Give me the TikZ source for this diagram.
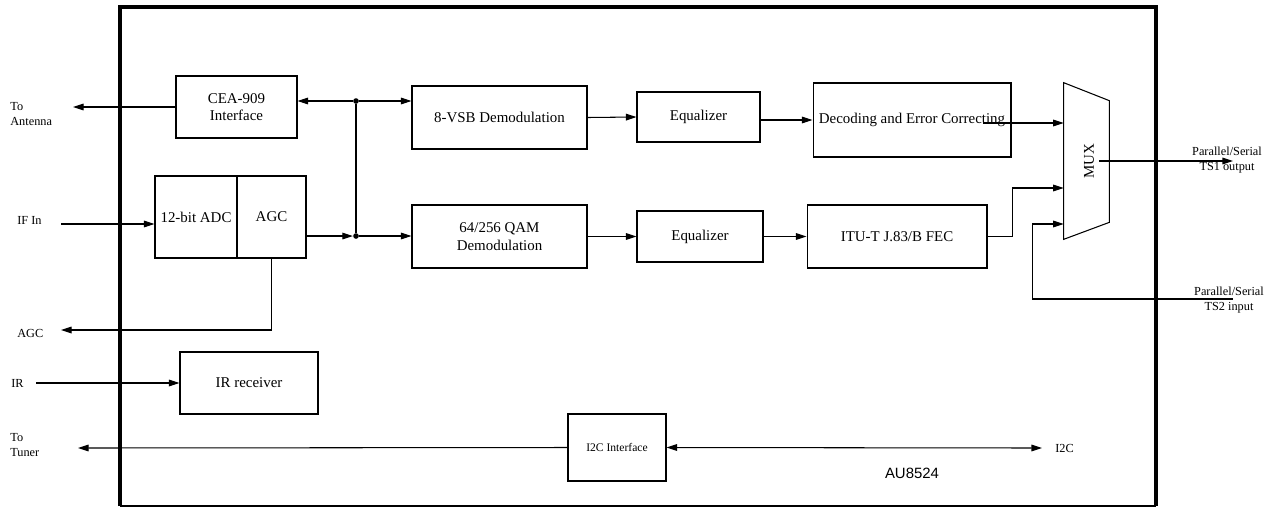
\documentclass[tikz,border=0pt]{standalone}
\usepackage{fontspec}
\setmainfont{Liberation Serif}
\newfontfamily\chipfont{Liberation Sans}
\usetikzlibrary{arrows.meta,positioning,calc}

\begin{document}
\begin{tikzpicture}[x=0.02cm, y=-0.02cm,
  block/.style={draw, line width=0.6pt, align=center, inner sep=1pt, font=\fontsize{8.5}{10}\selectfont},
  pin/.style={align=left, inner sep=0pt, anchor=west, font=\fontsize{7}{8.4}\selectfont},
  wire/.style={line width=0.6pt},
  sig/.style={wire, -{Triangle[length=6pt,width=3.8pt]}},
  bus/.style={wire, {Triangle[length=6pt,width=3.8pt]}-{Triangle[length=6pt,width=3.8pt]}},
  dot/.style={circle, fill, inner sep=0pt, minimum size=3.2pt}]
  \useasboundingbox (0,0) rectangle (1273,508);

  % chip outline
  \draw[line width=2pt] (120,506) -- (120,7) -- (1156,7) -- (1156,506);
  \draw[line width=1pt] (120,506) -- (1156,506);
  \node[font=\chipfont\fontsize{8.5}{10}\selectfont] (chipname) at (912,473) {AU8524};

  % front end
  \node[block, minimum width=2.42cm, minimum height=1.24cm] (cea) at (236.5,107) {CEA-909\\Interface};
  \node[block, minimum width=1.64cm, minimum height=1.64cm] (adc) at (196,217) {12-bit ADC};
  \node[block, minimum width=1.38cm, minimum height=1.64cm] (agc) at (271.5,217) {AGC};
  \node[block, minimum width=2.76cm, minimum height=1.24cm] (irrx) at (249,383) {IR receiver};
  \node[block, minimum width=1.96cm, minimum height=1.34cm, font=\fontsize{6.6}{8}\selectfont] (i2c) at (617,447.5) {I2C Interface};

  % 8-VSB path
  \node[block, minimum width=3.5cm, minimum height=1.26cm] (vsb) at (499.5,117.5) {8-VSB Demodulation};
  \node[block, minimum width=2.46cm, minimum height=1cm] (eqa) at (698.5,117) {Equalizer};
  \node[block, minimum width=3.96cm, minimum height=1.48cm] (dec) at (912,120) {Decoding and Error Correcting};

  % QAM path
  \node[block, minimum width=3.5cm, minimum height=1.26cm] (qam) at (499.5,236.5) {64/256 QAM\\Demodulation};
  \node[block, minimum width=2.52cm, minimum height=1.02cm] (eqb) at (700,236.5) {Equalizer};
  \node[block, minimum width=3.6cm, minimum height=1.26cm] (fec) at (897,236.5) {ITU-T J.83/B FEC};

  % mux
  \node[minimum width=0.9cm, minimum height=3.12cm, inner sep=0pt] (mux) at (1086.5,161) {};
  \draw[wire] (mux.north west) -- ($(mux.north east)+(0,18)$) -- ($(mux.south east)+(0,-17)$) -- (mux.south west) -- cycle;
  \node[rotate=90, font=\fontsize{8.5}{10}\selectfont] (muxlbl) at (1089,161) {MUX};

  % junctions and pins
  \node[dot] (ja) at (356,101) {};
  \node[dot] (jb) at (356,236) {};
  \coordinate (antenna) at (73,107);
  \coordinate (ifin) at (61,224);
  \coordinate (agcout) at (61,330);
  \coordinate (irin) at (36,383);
  \coordinate (tuner) at (78,448);
  \coordinate (i2cout) at (1042,448);
  \coordinate (ts1) at (1233,161);
  \coordinate (ts2) at (1233,299);
  \coordinate (decout) at (983,123);

  \node[pin] (antlbl) at (10,114) {To\\Antenna};
  \node[pin] (iflbl) at (17,220) {IF In};
  \node[pin] (agclbl) at (17,333) {AGC};
  \node[pin] (irlbl) at (11,383) {IR};
  \node[pin] (tunlbl) at (10,445) {To\\Tuner};
  \node[pin] (i2clbl) at (1055,448) {I2C};
  \node[pin, anchor=center, align=center] (ts1lbl) at (1227,160) {Parallel/Serial\\TS1 output};
  \node[pin, anchor=center, align=center] (ts2lbl) at (1229,300) {Parallel/Serial\\TS2 input};

  % connections
  \draw[sig] (cea.west) -- (antenna);
  \draw[sig] (ja) -- (cea.east |- ja);
  \draw[sig] (ja) -- (vsb.west |- ja);
  \draw[wire] (ja) -- (jb);
  \draw[sig] (ifin) -- (adc.west |- ifin);
  \draw[sig] (agc.east |- jb) -- (jb);
  \draw[sig] (jb) -- (qam.west |- jb);
  \draw[sig] (agc.south) |- (agcout);
  \draw[sig] (irin) -- (irrx.west);
  \draw[sig] (i2c.west) -- (tuner);
  \draw[bus] (i2c.east) -- (i2cout);
  \draw[sig] (vsb.east) -- (eqa.west);
  \draw[sig] (eqa.east |- dec.west) -- (dec.west);
  \draw[sig] (qam.east) -- (eqb.west);
  \draw[sig] (eqb.east) -- (fec.west);
  \draw[sig] (decout) -- (mux.west |- decout);
  \draw[sig] (fec.east) -- ++(25,0) |- ($(mux.west)+(0,27)$);
  \draw[sig] (ts2) -| ($(mux.west)+(-31,63)$) -- ($(mux.west)+(0,63)$);
  \draw[sig] ($(mux.east)+(-10,0)$) -- (ts1);
\end{tikzpicture}
\end{document}
